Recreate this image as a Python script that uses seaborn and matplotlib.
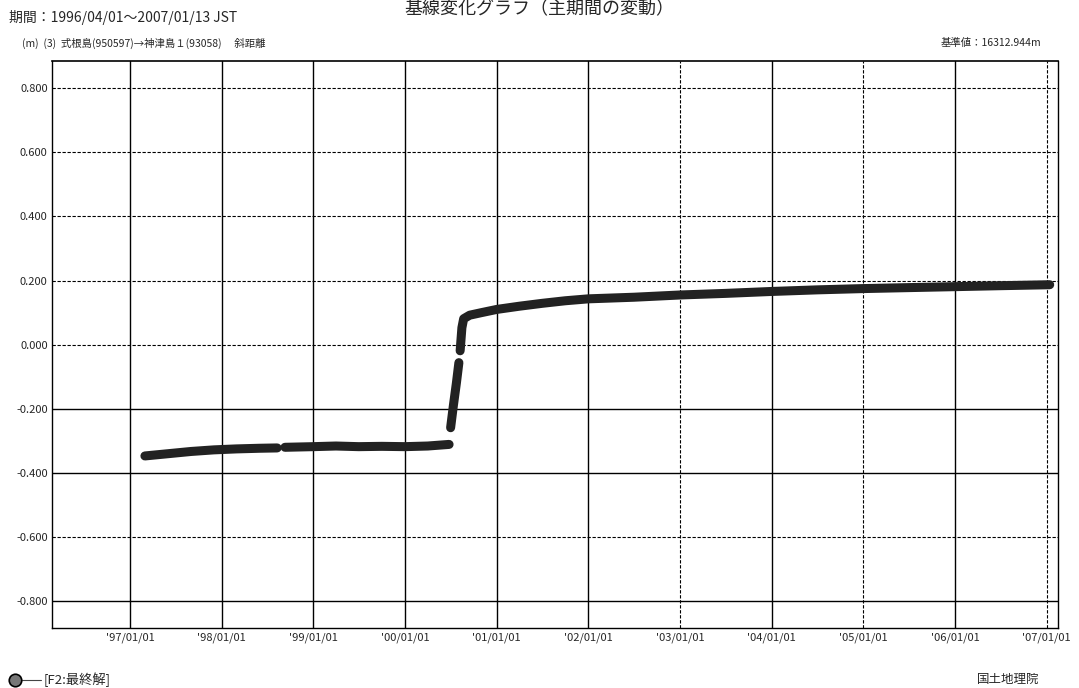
import pandas as pd
import numpy as np
import matplotlib
matplotlib.use("Agg")
import matplotlib.pyplot as plt
from matplotlib.lines import Line2D
import seaborn as sns

# 斜距離の変化 (m) : 目視で読み取った値, None は欠測による途切れ
dates = [
    "1997-03-01", "1997-06-01", "1997-09-01", "1997-12-01", "1998-03-01",
    "1998-06-01", "1998-08-10", None,
    "1998-09-10", "1999-01-01", "1999-04-01", "1999-07-01", "1999-10-01",
    "2000-01-01", "2000-04-01", "2000-06-25", None,
    "2000-07-01", "2000-07-12", "2000-07-24", "2000-08-03", None,
    "2000-08-08", "2000-08-15", "2000-08-22", "2000-09-15", "2000-11-01",
    "2001-01-01", "2001-04-01", "2001-07-01", "2001-10-01", "2002-01-01",
    "2002-07-01", "2003-01-01", "2003-07-01", "2004-01-01", "2004-07-01",
    "2005-01-01", "2005-07-01", "2006-01-01", "2006-07-01", "2007-01-13",
]
values = [
    -0.347, -0.340, -0.333, -0.328, -0.325,
    -0.323, -0.322, None,
    -0.320, -0.318, -0.316, -0.318, -0.317,
    -0.318, -0.316, -0.311, None,
    -0.259, -0.190, -0.120, -0.056, None,
    -0.019, 0.053, 0.081, 0.092, 0.100,
    0.110, 0.120, 0.129, 0.137, 0.143,
    0.148, 0.155, 0.160, 0.166, 0.171,
    0.175, 0.178, 0.181, 0.184, 0.187,
]

yticks = [0.8, 0.6, 0.4, 0.2, 0.0, -0.2, -0.4, -0.6, -0.8]
ytick_labels = ["0.800", "0.600", "0.400", "0.200", "0.000",
                "-0.200", "-0.400", "-0.600", "-0.800"]
xtick_dates = ["1997-01-01", "1998-01-01", "1999-01-01", "2000-01-01",
               "2001-01-01", "2002-01-01", "2003-01-01", "2004-01-01",
               "2005-01-01", "2006-01-01", "2007-01-01"]
xtick_labels = ["'97/01/01", "'98/01/01", "'99/01/01", "'00/01/01",
                "'01/01/01", "'02/01/01", "'03/01/01", "'04/01/01",
                "'05/01/01", "'06/01/01", "'07/01/01"]

# 途切れごとに区切ってデータフレーム化
rows = []
seg = 0
for d, v in zip(dates, values):
    if d is None:
        seg += 1
        continue
    rows.append({"date": pd.Timestamp(d), "dist": v, "seg": seg})
df = pd.DataFrame(rows)

sns.set_style("white")
plt.rcParams['font.family'] = ['Noto Sans CJK JP', 'DejaVu Sans']

fig = plt.figure(figsize=(10.79, 6.88), dpi=100)
ax = fig.add_axes([0.048, 0.087, 0.933, 0.824])

sns.lineplot(data=df, x="date", y="dist", units="seg", estimator=None,
             color="#222222", lw=6.5, ax=ax, legend=False)

ax.set_xlim(pd.Timestamp("1996-02-24"), pd.Timestamp("2007-02-17"))
ax.set_ylim(-0.884, 0.884)

ax.set_yticks(yticks)
ax.set_yticklabels(ytick_labels)
ax.set_xticks([pd.Timestamp(d) for d in xtick_dates])
ax.set_xticklabels(xtick_labels)
ax.tick_params(length=0, labelsize=8, pad=3)
ax.set_xlabel("")
ax.set_ylabel("")

# グリッド (実線と破線が混在)
solid_y = [-0.2, -0.4, -0.8]
for y in yticks:
    ls = "-" if y in solid_y else (0, (3, 1.5))
    ax.axhline(y, color="black", lw=1.0 if ls == "-" else 0.8, ls=ls, zorder=0)
dashed_x = ["2003-01-01", "2005-01-01", "2007-01-01"]
for d in xtick_dates:
    ls = (0, (3, 1.5)) if d in dashed_x else "-"
    ax.axvline(pd.Timestamp(d), color="black", lw=1.0 if ls == "-" else 0.8,
               ls=ls, zorder=0)

for side in ["left", "bottom", "right"]:
    ax.spines[side].set_linestyle((0, (2, 1)))
    ax.spines[side].set_linewidth(1.0)
    ax.spines[side].set_color("black")
ax.spines["top"].set_linewidth(1.2)
ax.spines["top"].set_color("black")

# テキスト類
fig.text(0.5, 0.999, "基線変化グラフ（主期間の変動）", ha="center", va="top",
         fontsize=13)
fig.text(0.008, 0.975, "期間：1996/04/01～2007/01/13 JST", ha="left",
         va="center", fontsize=10)
fig.text(0.02, 0.937, "(m)  (3)  式根島(950597)→神津島１(93058)　 斜距離",
         ha="left", va="center", fontsize=7.5)
fig.text(0.965, 0.937, "基準値：16312.944m", ha="right", va="center",
         fontsize=7.5)
fig.text(0.963, 0.012, "国土地理院", ha="right", va="center", fontsize=9)

# 凡例: ●── [F2:最終解]
fig.add_artist(Line2D([0.020, 0.038], [0.012, 0.012], color="#444444", lw=0.8,
                      transform=fig.transFigure))
fig.add_artist(Line2D([0.014], [0.012], marker="o", markersize=9,
                      markerfacecolor="#777777", markeredgecolor="black",
                      markeredgewidth=1.2, transform=fig.transFigure))
fig.text(0.040, 0.012, "[F2:最終解]", ha="left", va="center", fontsize=9.5)

plt.savefig("out.png", dpi=100)
